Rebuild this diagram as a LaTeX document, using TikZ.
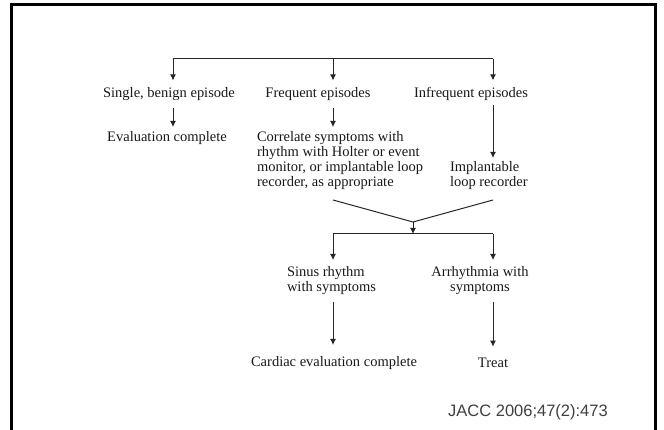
\documentclass[tikz,border=0pt]{standalone}
\usepackage{fontspec}
\setmainfont{Liberation Serif}
\newfontfamily\capfont{Liberation Sans}
\usetikzlibrary{arrows.meta}
\begin{document}
\begin{tikzpicture}[x=1pt,y=-1pt,
  txt/.style={inner sep=0pt, outer sep=0pt, font=\fontsize{14.5}{15}\selectfont, text=black!90},
  blk/.style={txt, align=left, anchor=north west},
  conn/.style={line width=1pt, draw=black!85},
  arr/.style={conn, -{Latex[length=6pt,width=6pt]}}]
\clip (0,0) rectangle (664,430);
\fill[white] (0,0) rectangle (664,430);
\draw[line width=3pt] (11,4.5) rectangle (655,450);
% nodes
\node[txt] (sb) at (169,94) {Single, benign episode};
\node[txt] (fe) at (318,94) {Frequent episodes};
\node[txt] (ie) at (471,94) {Infrequent episodes};
\node[txt] (ec) at (167,138) {Evaluation complete};
\node[blk] (cor) at (257,131.5) {Correlate symptoms with\\rhythm with Holter or event\\monitor, or implantable loop\\recorder, as appropriate};
\node[blk] (imp) at (450,161.5) {Implantable\\loop recorder};
\node[blk] (sr) at (287,266.5) {Sinus rhythm\\with symptoms};
\node[txt, align=center, anchor=north] (ar) at (480,266.5) {Arrhythmia with\\symptoms};
\node[txt] (cec) at (334,363) {Cardiac evaluation complete};
\node[txt] (tr) at (493,363) {Treat};
\node[txt, font=\capfont\fontsize{16.5}{18}\selectfont, text=black!75] (src) at (528,412) {JACC 2006;47(2):473};
% top bus
\coordinate (bL) at (173,59);
\coordinate (bM) at (333,59);
\coordinate (bR) at (493,59);
\draw[conn] (bL) -- (bR);
\draw[arr, shorten >=7pt] (bL) -- (bL |- sb.north);
\draw[arr, shorten >=7pt] (bM) -- (bM |- fe.north);
\draw[arr, shorten >=7pt] (bR) -- (bR |- ie.north);
% second level
\draw[arr, shorten <=7.5pt, shorten >=4.5pt] (bL |- sb.south) -- (bL |- ec.north);
\draw[arr, shorten <=7.5pt, shorten >=4.5pt] (bM |- fe.south) -- (bM |- cor.north);
\draw[arr, shorten <=4.5pt, shorten >=3.5pt] (bR |- ie.south) -- (bR |- imp.north);
% merge
\coordinate (mL) at (333,200);
\coordinate (mR) at (493,200);
\coordinate (mg) at (413,222);
\draw[conn] (mL) -- (mg) -- (mR);
\coordinate (cL) at (333,234);
\coordinate (cR) at (493,234);
\draw[conn] (cL) -- (cR);
\draw[arr] (mg) -- (mg |- cL);
\draw[arr, shorten >=6.5pt] (cL) -- (cL |- sr.north);
\draw[arr, shorten >=6.5pt] (cR) -- (cR |- ar.north);
\draw[arr, shorten <=7.5pt, shorten >=11.5pt] (cL |- sr.south) -- (cL |- cec.north);
\draw[arr, shorten <=7.5pt, shorten >=11.5pt] (cR |- ar.south) -- (cR |- tr.north);
\end{tikzpicture}
\end{document}
